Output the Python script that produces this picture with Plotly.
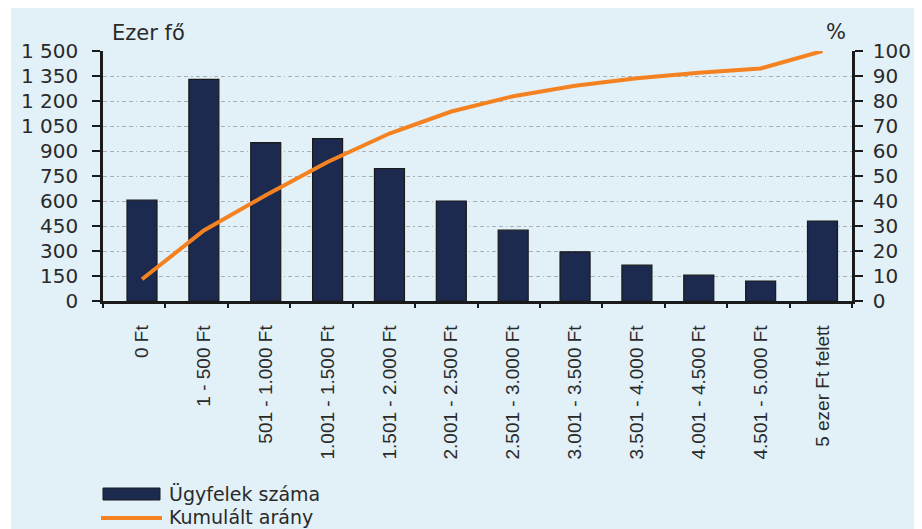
import plotly.graph_objects as go

categories = ["0 Ft", "1 - 500 Ft", "501 - 1.000 Ft", "1.001 - 1.500 Ft",
              "1.501 - 2.000 Ft", "2.001 - 2.500 Ft", "2.501 - 3.000 Ft",
              "3.001 - 3.500 Ft", "3.501 - 4.000 Ft", "4.001 - 4.500 Ft",
              "4.501 - 5.000 Ft", "5 ezer Ft felett"]
clients = [605, 1330, 950, 975, 795, 600, 425, 295, 215, 155, 120, 480]
cumulative = [8.7, 28.2, 42.3, 55.6, 67.0, 75.8, 81.9, 86.1, 89.1, 91.3, 93.0, 100]

left_ticks = [0, 150, 300, 450, 600, 750, 900, 1050, 1200, 1350, 1500]
left_text = ["0", "150", "300", "450", "600", "750", "900", "1 050", "1 200", "1 350", "1 500"]
right_ticks = [0, 10, 20, 30, 40, 50, 60, 70, 80, 90, 100]
right_text = [str(v) for v in right_ticks]

# page body has an 8px margin; figure is sized to fit the 922x529 window
OFF = 8
W, H = 922 - OFF, 529 - OFF
# plot area in window pixels
X0, X1, Y0, Y1 = 103, 852, 51, 301
L, R, T, B = X0 - OFF, 922 - X1, Y0 - OFF, 529 - Y1
PW, PH = X1 - X0, Y1 - Y0

def px(x):
    return (x - X0) / PW

def py(y):
    return (Y1 - y) / PH

# first / last category centre positions (window px) -> category axis range
C_FIRST, C_LAST = 142, 822.5
n = len(categories)
step = (C_LAST - C_FIRST) / (n - 1)
x_range = [-(C_FIRST - X0) / step, (n - 1) + (X1 - C_LAST) / step]

NAVY = "#1B2A4E"
ORANGE = "#F58220"
BG = "#E2F0F8"
TXT = "#2a2a2a"
AX = "#1a1a1a"

fig = go.Figure()
fig.add_trace(go.Bar(x=categories, y=clients, name="Ügyfelek száma",
                     marker=dict(color=NAVY, line=dict(color=AX, width=1.2)),
                     yaxis="y"))
fig.add_trace(go.Scatter(x=categories, y=cumulative, name="Kumulált arány",
                         mode="lines", line=dict(color=ORANGE, width=4),
                         yaxis="y2"))
# empty helper trace so the boundary-tick axis gets drawn
fig.add_trace(go.Scatter(x=[], y=[], xaxis="x2", yaxis="y", showlegend=False,
                         hoverinfo="skip"))

shapes = [
    # white frame strips
    dict(type="rect", xref="paper", yref="paper", x0=px(0), x1=px(11), y0=py(540), y1=py(0),
         fillcolor="white", line=dict(width=0), layer="below"),
    dict(type="rect", xref="paper", yref="paper", x0=px(919), x1=px(930), y0=py(540), y1=py(0),
         fillcolor="white", line=dict(width=0), layer="below"),
    # legend swatches
    dict(type="rect", xref="paper", yref="paper", x0=px(103), x1=px(160), y0=py(500), y1=py(488),
         fillcolor=NAVY, line=dict(color=AX, width=1)),
    dict(type="line", xref="paper", yref="paper", x0=px(101), x1=px(162), y0=py(518), y1=py(518),
         line=dict(color=ORANGE, width=4)),
]

annotations = [
    dict(text="Ezer fő", xref="paper", yref="paper", x=px(148), y=py(33),
         xanchor="center", yanchor="middle", showarrow=False,
         font=dict(family="DejaVu Sans", size=21, color=TXT)),
    dict(text="%", xref="paper", yref="paper", x=px(836), y=py(32),
         xanchor="center", yanchor="middle", showarrow=False,
         font=dict(family="DejaVu Sans", size=21, color=TXT)),
    dict(text="Ügyfelek száma", xref="paper", yref="paper", x=px(167), y=py(494),
         xanchor="left", yanchor="middle", showarrow=False,
         font=dict(family="DejaVu Sans", size=19, color=TXT)),
    dict(text="Kumulált arány", xref="paper", yref="paper", x=px(167), y=py(517),
         xanchor="left", yanchor="middle", showarrow=False,
         font=dict(family="DejaVu Sans", size=19, color=TXT)),
]

fig.update_layout(
    width=W, height=H,
    margin=dict(l=L, r=R, t=T, b=B, pad=0),
    paper_bgcolor=BG, plot_bgcolor="rgba(0,0,0,0)",
    showlegend=False,
    bargap=0.515,
    shapes=shapes,
    annotations=annotations,
    xaxis=dict(type="category", range=x_range, ticks="", showline=True, linewidth=2.5,
               linecolor=AX, showgrid=False, tickangle=-90,
               ticklabelstandoff=14,
               tickfont=dict(family="Liberation Sans", size=19, color=TXT)),
    # boundary tick marks of the category axis
    xaxis2=dict(overlaying="x", anchor="y", side="bottom", range=[0, n],
                tickmode="array", tickvals=list(range(n + 1)), ticks="outside", ticklen=6,
                tickwidth=2, tickcolor=AX, showticklabels=False,
                showgrid=False, zeroline=False, showline=False),
    yaxis=dict(range=[0, 1500], tickvals=left_ticks, ticktext=left_text,
               ticks="outside", ticklen=8, tickwidth=2, tickcolor=AX,
               showline=True, linewidth=2.5, linecolor=AX,
               showgrid=True, gridcolor="#a9b0b6", gridwidth=1,
               griddash="4px,3px,4px,3px,1.5px,3px",
               zeroline=False, ticklabelstandoff=10,
               tickfont=dict(family="DejaVu Sans", size=20, color=TXT)),
    yaxis2=dict(range=[0, 100], tickvals=right_ticks, ticktext=right_text,
                overlaying="y", side="right",
                ticks="outside", ticklen=8, tickwidth=2, tickcolor=AX,
                showline=True, linewidth=2.5, linecolor=AX,
                showgrid=False, zeroline=False, ticklabelstandoff=6,
                tickfont=dict(family="DejaVu Sans", size=20, color=TXT)),
)

fig.write_html("out.html")
